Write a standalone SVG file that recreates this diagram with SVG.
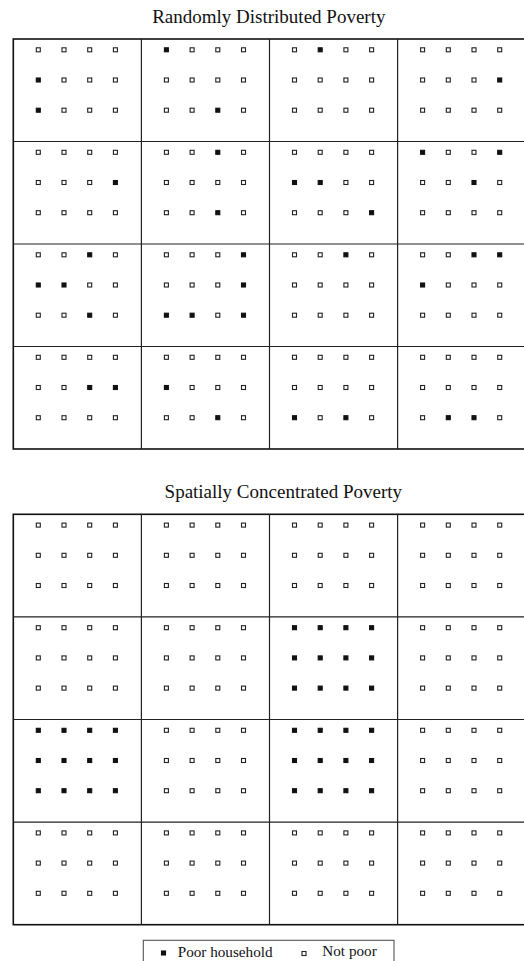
<svg xmlns="http://www.w3.org/2000/svg" width="524" height="961" viewBox="0 0 524 961">
<style>
.t{font-family:"Liberation Serif","Times New Roman",serif;fill:#111;}
.title{font-size:19px;text-anchor:middle;}
.leg{font-size:15.2px;}
.outer{fill:none;stroke:#111;stroke-width:1.6;}
.div{stroke:#222;stroke-width:1.2;fill:none;}
.n{fill:#fff;stroke:#222;stroke-width:1.1;}
.p{fill:#111;stroke:#111;stroke-width:1.1;}
.lbox{fill:#fff;stroke:#555;stroke-width:1.1;}
</style>
<defs>
<rect id="sq" width="4" height="4"/>
</defs>
<rect x="0" y="0" width="524" height="961" fill="#fff"/>
<text class="t title" x="268.8" y="23">Randomly Distributed Poverty</text>
<text class="t title" x="283.3" y="498">Spatially Concentrated Poverty</text>
<g id="connectors">
<rect class="outer" x="13.3" y="39" width="512.4" height="410"/>
<path class="div" d="M13.3 141.5H526M13.3 244H526M13.3 346.5H526M141.4 39V449M269.5 39V449M397.6 39V449"/>
<rect class="outer" x="13.3" y="514.3" width="512.4" height="410.4"/>
<path class="div" d="M13.3 616.9H526M13.3 719.5H526M13.3 822.1H526M141.4 514.3V924.7M269.5 514.3V924.7M397.6 514.3V924.7"/>
</g>
<g id="top-r0c0" transform="translate(13.3,39)">
<use href="#sq" class="n" x="23" y="8.8"/><use href="#sq" class="n" x="48.7" y="8.8"/><use href="#sq" class="n" x="74.4" y="8.8"/><use href="#sq" class="n" x="100.1" y="8.8"/>
<use href="#sq" class="p" x="23" y="39"/><use href="#sq" class="n" x="48.7" y="39"/><use href="#sq" class="n" x="74.4" y="39"/><use href="#sq" class="n" x="100.1" y="39"/>
<use href="#sq" class="p" x="23" y="69.2"/><use href="#sq" class="n" x="48.7" y="69.2"/><use href="#sq" class="n" x="74.4" y="69.2"/><use href="#sq" class="n" x="100.1" y="69.2"/>
</g>
<g id="top-r0c1" transform="translate(141.4,39)">
<use href="#sq" class="p" x="23" y="8.8"/><use href="#sq" class="n" x="48.7" y="8.8"/><use href="#sq" class="n" x="74.4" y="8.8"/><use href="#sq" class="n" x="100.1" y="8.8"/>
<use href="#sq" class="n" x="23" y="39"/><use href="#sq" class="n" x="48.7" y="39"/><use href="#sq" class="n" x="74.4" y="39"/><use href="#sq" class="n" x="100.1" y="39"/>
<use href="#sq" class="n" x="23" y="69.2"/><use href="#sq" class="n" x="48.7" y="69.2"/><use href="#sq" class="p" x="74.4" y="69.2"/><use href="#sq" class="n" x="100.1" y="69.2"/>
</g>
<g id="top-r0c2" transform="translate(269.5,39)">
<use href="#sq" class="n" x="23" y="8.8"/><use href="#sq" class="p" x="48.7" y="8.8"/><use href="#sq" class="n" x="74.4" y="8.8"/><use href="#sq" class="n" x="100.1" y="8.8"/>
<use href="#sq" class="n" x="23" y="39"/><use href="#sq" class="n" x="48.7" y="39"/><use href="#sq" class="n" x="74.4" y="39"/><use href="#sq" class="n" x="100.1" y="39"/>
<use href="#sq" class="n" x="23" y="69.2"/><use href="#sq" class="n" x="48.7" y="69.2"/><use href="#sq" class="n" x="74.4" y="69.2"/><use href="#sq" class="n" x="100.1" y="69.2"/>
</g>
<g id="top-r0c3" transform="translate(397.6,39)">
<use href="#sq" class="n" x="23" y="8.8"/><use href="#sq" class="n" x="48.7" y="8.8"/><use href="#sq" class="n" x="74.4" y="8.8"/><use href="#sq" class="n" x="100.1" y="8.8"/>
<use href="#sq" class="n" x="23" y="39"/><use href="#sq" class="n" x="48.7" y="39"/><use href="#sq" class="n" x="74.4" y="39"/><use href="#sq" class="p" x="100.1" y="39"/>
<use href="#sq" class="n" x="23" y="69.2"/><use href="#sq" class="n" x="48.7" y="69.2"/><use href="#sq" class="n" x="74.4" y="69.2"/><use href="#sq" class="n" x="100.1" y="69.2"/>
</g>
<g id="top-r1c0" transform="translate(13.3,141.5)">
<use href="#sq" class="n" x="23" y="8.8"/><use href="#sq" class="n" x="48.7" y="8.8"/><use href="#sq" class="n" x="74.4" y="8.8"/><use href="#sq" class="n" x="100.1" y="8.8"/>
<use href="#sq" class="n" x="23" y="39"/><use href="#sq" class="n" x="48.7" y="39"/><use href="#sq" class="n" x="74.4" y="39"/><use href="#sq" class="p" x="100.1" y="39"/>
<use href="#sq" class="n" x="23" y="69.2"/><use href="#sq" class="n" x="48.7" y="69.2"/><use href="#sq" class="n" x="74.4" y="69.2"/><use href="#sq" class="n" x="100.1" y="69.2"/>
</g>
<g id="top-r1c1" transform="translate(141.4,141.5)">
<use href="#sq" class="n" x="23" y="8.8"/><use href="#sq" class="n" x="48.7" y="8.8"/><use href="#sq" class="p" x="74.4" y="8.8"/><use href="#sq" class="n" x="100.1" y="8.8"/>
<use href="#sq" class="n" x="23" y="39"/><use href="#sq" class="n" x="48.7" y="39"/><use href="#sq" class="n" x="74.4" y="39"/><use href="#sq" class="n" x="100.1" y="39"/>
<use href="#sq" class="n" x="23" y="69.2"/><use href="#sq" class="n" x="48.7" y="69.2"/><use href="#sq" class="p" x="74.4" y="69.2"/><use href="#sq" class="n" x="100.1" y="69.2"/>
</g>
<g id="top-r1c2" transform="translate(269.5,141.5)">
<use href="#sq" class="n" x="23" y="8.8"/><use href="#sq" class="n" x="48.7" y="8.8"/><use href="#sq" class="n" x="74.4" y="8.8"/><use href="#sq" class="n" x="100.1" y="8.8"/>
<use href="#sq" class="p" x="23" y="39"/><use href="#sq" class="p" x="48.7" y="39"/><use href="#sq" class="n" x="74.4" y="39"/><use href="#sq" class="n" x="100.1" y="39"/>
<use href="#sq" class="n" x="23" y="69.2"/><use href="#sq" class="n" x="48.7" y="69.2"/><use href="#sq" class="n" x="74.4" y="69.2"/><use href="#sq" class="p" x="100.1" y="69.2"/>
</g>
<g id="top-r1c3" transform="translate(397.6,141.5)">
<use href="#sq" class="p" x="23" y="8.8"/><use href="#sq" class="n" x="48.7" y="8.8"/><use href="#sq" class="n" x="74.4" y="8.8"/><use href="#sq" class="p" x="100.1" y="8.8"/>
<use href="#sq" class="n" x="23" y="39"/><use href="#sq" class="n" x="48.7" y="39"/><use href="#sq" class="p" x="74.4" y="39"/><use href="#sq" class="n" x="100.1" y="39"/>
<use href="#sq" class="n" x="23" y="69.2"/><use href="#sq" class="n" x="48.7" y="69.2"/><use href="#sq" class="n" x="74.4" y="69.2"/><use href="#sq" class="n" x="100.1" y="69.2"/>
</g>
<g id="top-r2c0" transform="translate(13.3,244)">
<use href="#sq" class="n" x="23" y="8.8"/><use href="#sq" class="n" x="48.7" y="8.8"/><use href="#sq" class="p" x="74.4" y="8.8"/><use href="#sq" class="n" x="100.1" y="8.8"/>
<use href="#sq" class="p" x="23" y="39"/><use href="#sq" class="p" x="48.7" y="39"/><use href="#sq" class="n" x="74.4" y="39"/><use href="#sq" class="n" x="100.1" y="39"/>
<use href="#sq" class="n" x="23" y="69.2"/><use href="#sq" class="n" x="48.7" y="69.2"/><use href="#sq" class="p" x="74.4" y="69.2"/><use href="#sq" class="n" x="100.1" y="69.2"/>
</g>
<g id="top-r2c1" transform="translate(141.4,244)">
<use href="#sq" class="n" x="23" y="8.8"/><use href="#sq" class="n" x="48.7" y="8.8"/><use href="#sq" class="n" x="74.4" y="8.8"/><use href="#sq" class="p" x="100.1" y="8.8"/>
<use href="#sq" class="n" x="23" y="39"/><use href="#sq" class="n" x="48.7" y="39"/><use href="#sq" class="n" x="74.4" y="39"/><use href="#sq" class="p" x="100.1" y="39"/>
<use href="#sq" class="p" x="23" y="69.2"/><use href="#sq" class="p" x="48.7" y="69.2"/><use href="#sq" class="n" x="74.4" y="69.2"/><use href="#sq" class="p" x="100.1" y="69.2"/>
</g>
<g id="top-r2c2" transform="translate(269.5,244)">
<use href="#sq" class="n" x="23" y="8.8"/><use href="#sq" class="n" x="48.7" y="8.8"/><use href="#sq" class="p" x="74.4" y="8.8"/><use href="#sq" class="n" x="100.1" y="8.8"/>
<use href="#sq" class="n" x="23" y="39"/><use href="#sq" class="n" x="48.7" y="39"/><use href="#sq" class="n" x="74.4" y="39"/><use href="#sq" class="n" x="100.1" y="39"/>
<use href="#sq" class="n" x="23" y="69.2"/><use href="#sq" class="n" x="48.7" y="69.2"/><use href="#sq" class="n" x="74.4" y="69.2"/><use href="#sq" class="n" x="100.1" y="69.2"/>
</g>
<g id="top-r2c3" transform="translate(397.6,244)">
<use href="#sq" class="n" x="23" y="8.8"/><use href="#sq" class="n" x="48.7" y="8.8"/><use href="#sq" class="p" x="74.4" y="8.8"/><use href="#sq" class="p" x="100.1" y="8.8"/>
<use href="#sq" class="p" x="23" y="39"/><use href="#sq" class="n" x="48.7" y="39"/><use href="#sq" class="n" x="74.4" y="39"/><use href="#sq" class="n" x="100.1" y="39"/>
<use href="#sq" class="n" x="23" y="69.2"/><use href="#sq" class="n" x="48.7" y="69.2"/><use href="#sq" class="n" x="74.4" y="69.2"/><use href="#sq" class="n" x="100.1" y="69.2"/>
</g>
<g id="top-r3c0" transform="translate(13.3,346.5)">
<use href="#sq" class="n" x="23" y="8.8"/><use href="#sq" class="n" x="48.7" y="8.8"/><use href="#sq" class="n" x="74.4" y="8.8"/><use href="#sq" class="n" x="100.1" y="8.8"/>
<use href="#sq" class="n" x="23" y="39"/><use href="#sq" class="n" x="48.7" y="39"/><use href="#sq" class="p" x="74.4" y="39"/><use href="#sq" class="p" x="100.1" y="39"/>
<use href="#sq" class="n" x="23" y="69.2"/><use href="#sq" class="n" x="48.7" y="69.2"/><use href="#sq" class="n" x="74.4" y="69.2"/><use href="#sq" class="n" x="100.1" y="69.2"/>
</g>
<g id="top-r3c1" transform="translate(141.4,346.5)">
<use href="#sq" class="n" x="23" y="8.8"/><use href="#sq" class="n" x="48.7" y="8.8"/><use href="#sq" class="n" x="74.4" y="8.8"/><use href="#sq" class="n" x="100.1" y="8.8"/>
<use href="#sq" class="p" x="23" y="39"/><use href="#sq" class="n" x="48.7" y="39"/><use href="#sq" class="n" x="74.4" y="39"/><use href="#sq" class="n" x="100.1" y="39"/>
<use href="#sq" class="n" x="23" y="69.2"/><use href="#sq" class="n" x="48.7" y="69.2"/><use href="#sq" class="p" x="74.4" y="69.2"/><use href="#sq" class="n" x="100.1" y="69.2"/>
</g>
<g id="top-r3c2" transform="translate(269.5,346.5)">
<use href="#sq" class="n" x="23" y="8.8"/><use href="#sq" class="n" x="48.7" y="8.8"/><use href="#sq" class="n" x="74.4" y="8.8"/><use href="#sq" class="n" x="100.1" y="8.8"/>
<use href="#sq" class="n" x="23" y="39"/><use href="#sq" class="n" x="48.7" y="39"/><use href="#sq" class="n" x="74.4" y="39"/><use href="#sq" class="n" x="100.1" y="39"/>
<use href="#sq" class="p" x="23" y="69.2"/><use href="#sq" class="n" x="48.7" y="69.2"/><use href="#sq" class="p" x="74.4" y="69.2"/><use href="#sq" class="n" x="100.1" y="69.2"/>
</g>
<g id="top-r3c3" transform="translate(397.6,346.5)">
<use href="#sq" class="n" x="23" y="8.8"/><use href="#sq" class="n" x="48.7" y="8.8"/><use href="#sq" class="n" x="74.4" y="8.8"/><use href="#sq" class="n" x="100.1" y="8.8"/>
<use href="#sq" class="n" x="23" y="39"/><use href="#sq" class="n" x="48.7" y="39"/><use href="#sq" class="n" x="74.4" y="39"/><use href="#sq" class="n" x="100.1" y="39"/>
<use href="#sq" class="n" x="23" y="69.2"/><use href="#sq" class="p" x="48.7" y="69.2"/><use href="#sq" class="p" x="74.4" y="69.2"/><use href="#sq" class="n" x="100.1" y="69.2"/>
</g>
<g id="bot-r0c0" transform="translate(13.3,514.3)">
<use href="#sq" class="n" x="23" y="8.8"/><use href="#sq" class="n" x="48.7" y="8.8"/><use href="#sq" class="n" x="74.4" y="8.8"/><use href="#sq" class="n" x="100.1" y="8.8"/>
<use href="#sq" class="n" x="23" y="39"/><use href="#sq" class="n" x="48.7" y="39"/><use href="#sq" class="n" x="74.4" y="39"/><use href="#sq" class="n" x="100.1" y="39"/>
<use href="#sq" class="n" x="23" y="69.2"/><use href="#sq" class="n" x="48.7" y="69.2"/><use href="#sq" class="n" x="74.4" y="69.2"/><use href="#sq" class="n" x="100.1" y="69.2"/>
</g>
<g id="bot-r0c1" transform="translate(141.4,514.3)">
<use href="#sq" class="n" x="23" y="8.8"/><use href="#sq" class="n" x="48.7" y="8.8"/><use href="#sq" class="n" x="74.4" y="8.8"/><use href="#sq" class="n" x="100.1" y="8.8"/>
<use href="#sq" class="n" x="23" y="39"/><use href="#sq" class="n" x="48.7" y="39"/><use href="#sq" class="n" x="74.4" y="39"/><use href="#sq" class="n" x="100.1" y="39"/>
<use href="#sq" class="n" x="23" y="69.2"/><use href="#sq" class="n" x="48.7" y="69.2"/><use href="#sq" class="n" x="74.4" y="69.2"/><use href="#sq" class="n" x="100.1" y="69.2"/>
</g>
<g id="bot-r0c2" transform="translate(269.5,514.3)">
<use href="#sq" class="n" x="23" y="8.8"/><use href="#sq" class="n" x="48.7" y="8.8"/><use href="#sq" class="n" x="74.4" y="8.8"/><use href="#sq" class="n" x="100.1" y="8.8"/>
<use href="#sq" class="n" x="23" y="39"/><use href="#sq" class="n" x="48.7" y="39"/><use href="#sq" class="n" x="74.4" y="39"/><use href="#sq" class="n" x="100.1" y="39"/>
<use href="#sq" class="n" x="23" y="69.2"/><use href="#sq" class="n" x="48.7" y="69.2"/><use href="#sq" class="n" x="74.4" y="69.2"/><use href="#sq" class="n" x="100.1" y="69.2"/>
</g>
<g id="bot-r0c3" transform="translate(397.6,514.3)">
<use href="#sq" class="n" x="23" y="8.8"/><use href="#sq" class="n" x="48.7" y="8.8"/><use href="#sq" class="n" x="74.4" y="8.8"/><use href="#sq" class="n" x="100.1" y="8.8"/>
<use href="#sq" class="n" x="23" y="39"/><use href="#sq" class="n" x="48.7" y="39"/><use href="#sq" class="n" x="74.4" y="39"/><use href="#sq" class="n" x="100.1" y="39"/>
<use href="#sq" class="n" x="23" y="69.2"/><use href="#sq" class="n" x="48.7" y="69.2"/><use href="#sq" class="n" x="74.4" y="69.2"/><use href="#sq" class="n" x="100.1" y="69.2"/>
</g>
<g id="bot-r1c0" transform="translate(13.3,616.9)">
<use href="#sq" class="n" x="23" y="8.8"/><use href="#sq" class="n" x="48.7" y="8.8"/><use href="#sq" class="n" x="74.4" y="8.8"/><use href="#sq" class="n" x="100.1" y="8.8"/>
<use href="#sq" class="n" x="23" y="39"/><use href="#sq" class="n" x="48.7" y="39"/><use href="#sq" class="n" x="74.4" y="39"/><use href="#sq" class="n" x="100.1" y="39"/>
<use href="#sq" class="n" x="23" y="69.2"/><use href="#sq" class="n" x="48.7" y="69.2"/><use href="#sq" class="n" x="74.4" y="69.2"/><use href="#sq" class="n" x="100.1" y="69.2"/>
</g>
<g id="bot-r1c1" transform="translate(141.4,616.9)">
<use href="#sq" class="n" x="23" y="8.8"/><use href="#sq" class="n" x="48.7" y="8.8"/><use href="#sq" class="n" x="74.4" y="8.8"/><use href="#sq" class="n" x="100.1" y="8.8"/>
<use href="#sq" class="n" x="23" y="39"/><use href="#sq" class="n" x="48.7" y="39"/><use href="#sq" class="n" x="74.4" y="39"/><use href="#sq" class="n" x="100.1" y="39"/>
<use href="#sq" class="n" x="23" y="69.2"/><use href="#sq" class="n" x="48.7" y="69.2"/><use href="#sq" class="n" x="74.4" y="69.2"/><use href="#sq" class="n" x="100.1" y="69.2"/>
</g>
<g id="bot-r1c2" transform="translate(269.5,616.9)">
<use href="#sq" class="p" x="23" y="8.8"/><use href="#sq" class="p" x="48.7" y="8.8"/><use href="#sq" class="p" x="74.4" y="8.8"/><use href="#sq" class="p" x="100.1" y="8.8"/>
<use href="#sq" class="p" x="23" y="39"/><use href="#sq" class="p" x="48.7" y="39"/><use href="#sq" class="p" x="74.4" y="39"/><use href="#sq" class="p" x="100.1" y="39"/>
<use href="#sq" class="p" x="23" y="69.2"/><use href="#sq" class="p" x="48.7" y="69.2"/><use href="#sq" class="p" x="74.4" y="69.2"/><use href="#sq" class="p" x="100.1" y="69.2"/>
</g>
<g id="bot-r1c3" transform="translate(397.6,616.9)">
<use href="#sq" class="n" x="23" y="8.8"/><use href="#sq" class="n" x="48.7" y="8.8"/><use href="#sq" class="n" x="74.4" y="8.8"/><use href="#sq" class="n" x="100.1" y="8.8"/>
<use href="#sq" class="n" x="23" y="39"/><use href="#sq" class="n" x="48.7" y="39"/><use href="#sq" class="n" x="74.4" y="39"/><use href="#sq" class="n" x="100.1" y="39"/>
<use href="#sq" class="n" x="23" y="69.2"/><use href="#sq" class="n" x="48.7" y="69.2"/><use href="#sq" class="n" x="74.4" y="69.2"/><use href="#sq" class="n" x="100.1" y="69.2"/>
</g>
<g id="bot-r2c0" transform="translate(13.3,719.5)">
<use href="#sq" class="p" x="23" y="8.8"/><use href="#sq" class="p" x="48.7" y="8.8"/><use href="#sq" class="p" x="74.4" y="8.8"/><use href="#sq" class="p" x="100.1" y="8.8"/>
<use href="#sq" class="p" x="23" y="39"/><use href="#sq" class="p" x="48.7" y="39"/><use href="#sq" class="p" x="74.4" y="39"/><use href="#sq" class="p" x="100.1" y="39"/>
<use href="#sq" class="p" x="23" y="69.2"/><use href="#sq" class="p" x="48.7" y="69.2"/><use href="#sq" class="p" x="74.4" y="69.2"/><use href="#sq" class="p" x="100.1" y="69.2"/>
</g>
<g id="bot-r2c1" transform="translate(141.4,719.5)">
<use href="#sq" class="n" x="23" y="8.8"/><use href="#sq" class="n" x="48.7" y="8.8"/><use href="#sq" class="n" x="74.4" y="8.8"/><use href="#sq" class="n" x="100.1" y="8.8"/>
<use href="#sq" class="n" x="23" y="39"/><use href="#sq" class="n" x="48.7" y="39"/><use href="#sq" class="n" x="74.4" y="39"/><use href="#sq" class="n" x="100.1" y="39"/>
<use href="#sq" class="n" x="23" y="69.2"/><use href="#sq" class="n" x="48.7" y="69.2"/><use href="#sq" class="n" x="74.4" y="69.2"/><use href="#sq" class="n" x="100.1" y="69.2"/>
</g>
<g id="bot-r2c2" transform="translate(269.5,719.5)">
<use href="#sq" class="p" x="23" y="8.8"/><use href="#sq" class="p" x="48.7" y="8.8"/><use href="#sq" class="p" x="74.4" y="8.8"/><use href="#sq" class="p" x="100.1" y="8.8"/>
<use href="#sq" class="p" x="23" y="39"/><use href="#sq" class="p" x="48.7" y="39"/><use href="#sq" class="p" x="74.4" y="39"/><use href="#sq" class="p" x="100.1" y="39"/>
<use href="#sq" class="p" x="23" y="69.2"/><use href="#sq" class="p" x="48.7" y="69.2"/><use href="#sq" class="p" x="74.4" y="69.2"/><use href="#sq" class="p" x="100.1" y="69.2"/>
</g>
<g id="bot-r2c3" transform="translate(397.6,719.5)">
<use href="#sq" class="n" x="23" y="8.8"/><use href="#sq" class="n" x="48.7" y="8.8"/><use href="#sq" class="n" x="74.4" y="8.8"/><use href="#sq" class="n" x="100.1" y="8.8"/>
<use href="#sq" class="n" x="23" y="39"/><use href="#sq" class="n" x="48.7" y="39"/><use href="#sq" class="n" x="74.4" y="39"/><use href="#sq" class="n" x="100.1" y="39"/>
<use href="#sq" class="n" x="23" y="69.2"/><use href="#sq" class="n" x="48.7" y="69.2"/><use href="#sq" class="n" x="74.4" y="69.2"/><use href="#sq" class="n" x="100.1" y="69.2"/>
</g>
<g id="bot-r3c0" transform="translate(13.3,822.1)">
<use href="#sq" class="n" x="23" y="8.8"/><use href="#sq" class="n" x="48.7" y="8.8"/><use href="#sq" class="n" x="74.4" y="8.8"/><use href="#sq" class="n" x="100.1" y="8.8"/>
<use href="#sq" class="n" x="23" y="39"/><use href="#sq" class="n" x="48.7" y="39"/><use href="#sq" class="n" x="74.4" y="39"/><use href="#sq" class="n" x="100.1" y="39"/>
<use href="#sq" class="n" x="23" y="69.2"/><use href="#sq" class="n" x="48.7" y="69.2"/><use href="#sq" class="n" x="74.4" y="69.2"/><use href="#sq" class="n" x="100.1" y="69.2"/>
</g>
<g id="bot-r3c1" transform="translate(141.4,822.1)">
<use href="#sq" class="n" x="23" y="8.8"/><use href="#sq" class="n" x="48.7" y="8.8"/><use href="#sq" class="n" x="74.4" y="8.8"/><use href="#sq" class="n" x="100.1" y="8.8"/>
<use href="#sq" class="n" x="23" y="39"/><use href="#sq" class="n" x="48.7" y="39"/><use href="#sq" class="n" x="74.4" y="39"/><use href="#sq" class="n" x="100.1" y="39"/>
<use href="#sq" class="n" x="23" y="69.2"/><use href="#sq" class="n" x="48.7" y="69.2"/><use href="#sq" class="n" x="74.4" y="69.2"/><use href="#sq" class="n" x="100.1" y="69.2"/>
</g>
<g id="bot-r3c2" transform="translate(269.5,822.1)">
<use href="#sq" class="n" x="23" y="8.8"/><use href="#sq" class="n" x="48.7" y="8.8"/><use href="#sq" class="n" x="74.4" y="8.8"/><use href="#sq" class="n" x="100.1" y="8.8"/>
<use href="#sq" class="n" x="23" y="39"/><use href="#sq" class="n" x="48.7" y="39"/><use href="#sq" class="n" x="74.4" y="39"/><use href="#sq" class="n" x="100.1" y="39"/>
<use href="#sq" class="n" x="23" y="69.2"/><use href="#sq" class="n" x="48.7" y="69.2"/><use href="#sq" class="n" x="74.4" y="69.2"/><use href="#sq" class="n" x="100.1" y="69.2"/>
</g>
<g id="bot-r3c3" transform="translate(397.6,822.1)">
<use href="#sq" class="n" x="23" y="8.8"/><use href="#sq" class="n" x="48.7" y="8.8"/><use href="#sq" class="n" x="74.4" y="8.8"/><use href="#sq" class="n" x="100.1" y="8.8"/>
<use href="#sq" class="n" x="23" y="39"/><use href="#sq" class="n" x="48.7" y="39"/><use href="#sq" class="n" x="74.4" y="39"/><use href="#sq" class="n" x="100.1" y="39"/>
<use href="#sq" class="n" x="23" y="69.2"/><use href="#sq" class="n" x="48.7" y="69.2"/><use href="#sq" class="n" x="74.4" y="69.2"/><use href="#sq" class="n" x="100.1" y="69.2"/>
</g>
<g id="legend">
<rect class="lbox" x="143.3" y="940.3" width="250.7" height="30"/>
<use href="#sq" class="p" x="161.5" y="951"/>
<text class="t leg" x="177.7" y="957.3">Poor household</text>
<use href="#sq" class="n" x="302" y="951.5"/>
<text class="t leg" x="322.3" y="956.3">Not poor</text>
</g>
</svg>
